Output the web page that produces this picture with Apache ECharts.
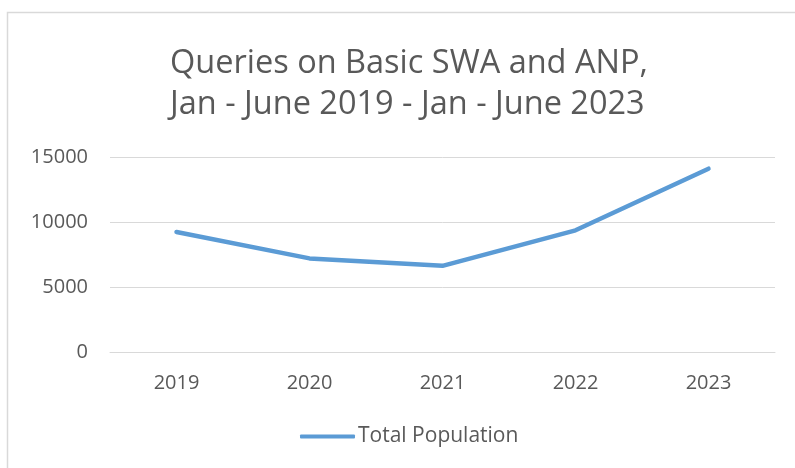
<!DOCTYPE html>
<html>
<head>
<meta charset="utf-8">
<script src="https://cdn.jsdelivr.net/npm/echarts@6/dist/echarts.min.js"></script>
<style>
html,body{margin:0;padding:0;background:#fff;}
#chart{width:795px;height:468px;}
</style>
</head>
<body>
<div id="chart"></div>
<script>
const categories = ['2019', '2020', '2021', '2022', '2023'];
const totalPopulation = [9230, 7200, 6630, 9360, 14100];
const seriesName = 'Total Population';
const titleText = 'Queries on Basic SWA and ANP,\nJan - June 2019 - Jan - June 2023';

const chart = echarts.init(document.getElementById('chart'));
chart.setOption({
  animation: false,
  backgroundColor: '#fff',
  graphic: [{
    type: 'rect',
    shape: { x: 7.5, y: 12.5, width: 800, height: 470 },
    style: { fill: 'none', stroke: '#d9d9d9', lineWidth: 1.5 },
    silent: true
  }],
  title: {
    text: titleText,
    left: 165,
    top: 38,
    textStyle: {
      fontFamily: 'Open Sans',
      fontWeight: 'normal',
      fontSize: 32.5,
      color: '#595959',
      lineHeight: 41,
      align: 'center'
    }
  },
  legend: {
    bottom: 16,
    left: 295,
    itemWidth: 55,
    itemHeight: 4,
    itemGap: 4,
    icon: 'roundRect',
    textStyle: { fontFamily: 'Open Sans', fontSize: 21, color: '#595959', padding: [0,0,0,-2] },
    data: [seriesName]
  },
  grid: { left: 110, right: 20, top: 157, bottom: 116 },
  xAxis: {
    type: 'category',
    data: categories,
    boundaryGap: true,
    axisLine: { lineStyle: { color: '#d9d9d9', width: 1 } },
    axisTick: { show: false },
    axisLabel: { fontFamily: 'Open Sans', fontSize: 20, color: '#595959', margin: 21 }
  },
  yAxis: {
    type: 'value',
    min: 0,
    max: 15000,
    interval: 5000,
    axisLine: { show: false },
    axisTick: { show: false },
    splitLine: { lineStyle: { color: '#d9d9d9', width: 1 } },
    axisLabel: { fontFamily: 'Open Sans', fontSize: 20, color: '#595959', margin: 22, formatter: v => String(v) }
  },
  series: [{
    name: seriesName,
    type: 'line',
    data: totalPopulation,
    showSymbol: false,
    symbol: 'none',
    lineStyle: { color: '#5B9BD5', width: 4.5, cap: 'round', join: 'round' },
    itemStyle: { color: '#5B9BD5' }
  }]
});
</script>
</body>
</html>
